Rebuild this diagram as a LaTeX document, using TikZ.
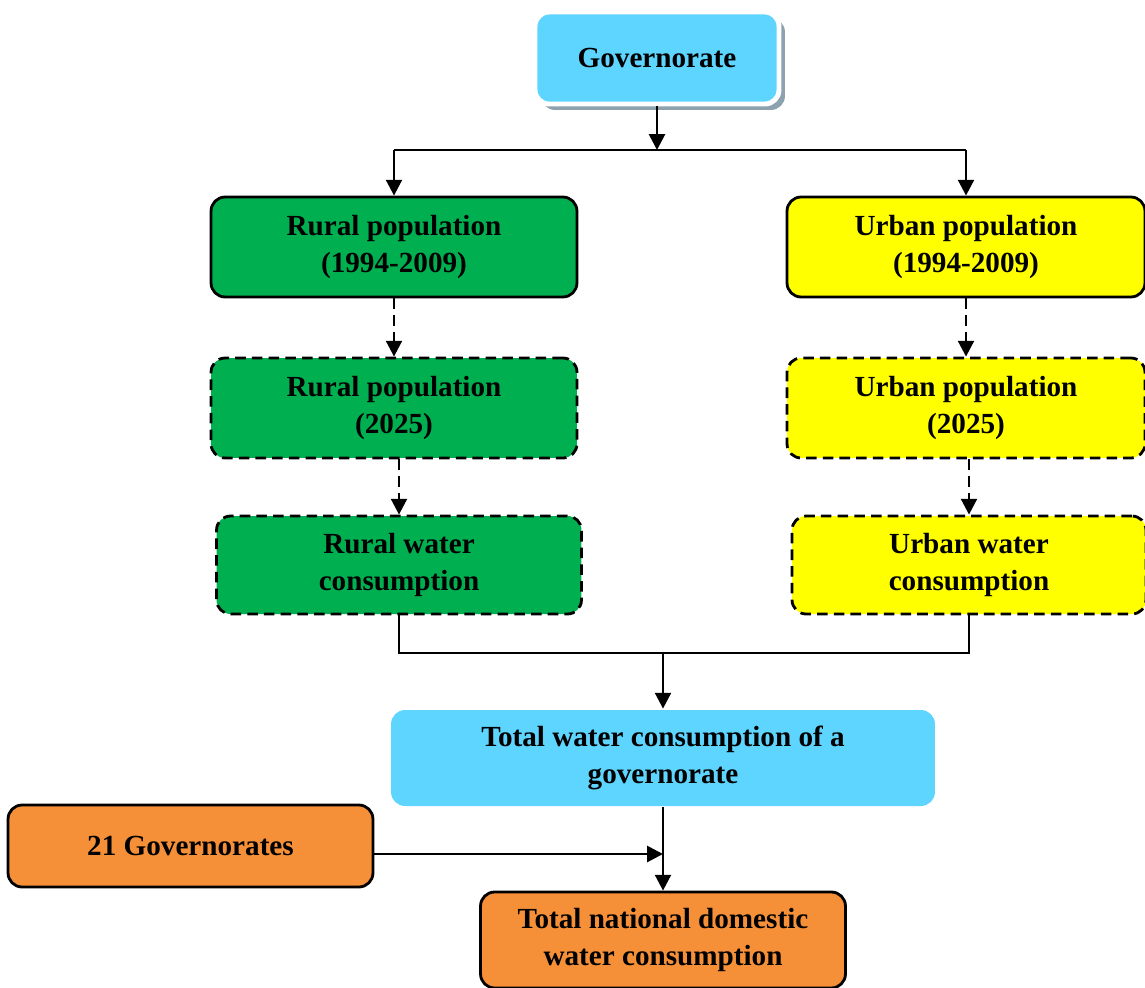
\documentclass[tikz,border=0pt]{standalone}
\usepackage{fontspec}
\setmainfont{Liberation Serif}
\usetikzlibrary{arrows.meta,shadows}

\definecolor{govblue}{RGB}{94,213,255}
\definecolor{ruralgreen}{RGB}{0,176,80}
\definecolor{urbanyellow}{RGB}{255,255,0}
\definecolor{natorange}{RGB}{245,143,56}
\definecolor{shadowgray}{RGB}{140,162,174}

\tikzset{
  box/.style={draw, line width=1.6pt, rounded corners=8pt, align=center,
    font=\bfseries\fontsize{16.6}{21}\selectfont, inner sep=0pt},
  dashbox/.style={box, dash pattern=on 6pt off 3.5pt},
  link/.style={line width=1.6pt},
  arr/.style={link, -{Triangle[length=9pt,width=9pt]}},
}

\begin{document}
\begin{tikzpicture}[x=0.02cm, y=-0.02cm]
\clip (0,0) rectangle (1145,987);

\node[box, draw=white, line width=2.8pt, fill=govblue,
  drop shadow={shadow xshift=3.4pt, shadow yshift=-3.4pt, fill=shadowgray, opacity=1},
  minimum width=4.88cm, minimum height=1.84cm] (gov) at (657,58) {Governorate};

\node[box, fill=ruralgreen, minimum width=7.32cm, minimum height=2cm] (rural1) at (394,247) {Rural population\\(1994-2009)};
\node[box, fill=urbanyellow, minimum width=7.16cm, minimum height=2cm] (urban1) at (966,247) {Urban population\\(1994-2009)};

\node[dashbox, fill=ruralgreen, minimum width=7.32cm, minimum height=2cm] (rural2) at (394,408) {Rural population\\(2025)};
\node[dashbox, fill=urbanyellow, minimum width=7.16cm, minimum height=2cm] (urban2) at (966,408) {Urban population\\(2025)};

\node[dashbox, fill=ruralgreen, minimum width=7.3cm, minimum height=1.96cm] (rural3) at (399,565) {Rural water\\consumption};
\node[dashbox, fill=urbanyellow, minimum width=7.08cm, minimum height=1.96cm] (urban3) at (969,565) {Urban water\\consumption};

\node[box, draw=none, fill=govblue, minimum width=10.88cm, minimum height=1.92cm] (totgov) at (663,758) {Total water consumption of a\\governorate};

\node[box, fill=natorange, minimum width=7.3cm, minimum height=1.64cm] (all) at (190.5,846) {21 Governorates};
\node[box, fill=natorange, minimum width=7.3cm, minimum height=1.92cm] (national) at (663,940) {Total national domestic\\water consumption};

% split below the governorate
\coordinate (split) at (657,150);
\draw[arr] (gov.south) -- (split);
\draw[link] (rural1.north |- split) -- (urban1.north |- split);
\draw[arr] (rural1.north |- split) -- (rural1.north);
\draw[arr] (urban1.north |- split) -- (urban1.north);

% projections
\draw[arr, dash pattern=on 6pt off 3.5pt] (rural1.south) -- (rural2.north);
\draw[arr, dash pattern=on 6pt off 3.5pt] (urban1.south) -- (urban2.north);
\draw[arr, dash pattern=on 6pt off 3.5pt] (rural3.north |- rural2.south) -- (rural3.north);
\draw[arr, dash pattern=on 6pt off 3.5pt] (urban3.north |- urban2.south) -- (urban3.north);

% join into the governorate total
\coordinate (join) at (663,653);
\draw[link] (rural3.south) -- (rural3.south |- join) -- (urban3.south |- join) -- (urban3.south);
\draw[arr] (join) -- (totgov.north);

% national total
\draw[arr] (totgov.south) -- (national.north);
\coordinate (allout) at ([yshift=-0.16cm]all.east);
\draw[arr] (allout) -- (allout -| totgov.south);

\end{tikzpicture}
\end{document}
